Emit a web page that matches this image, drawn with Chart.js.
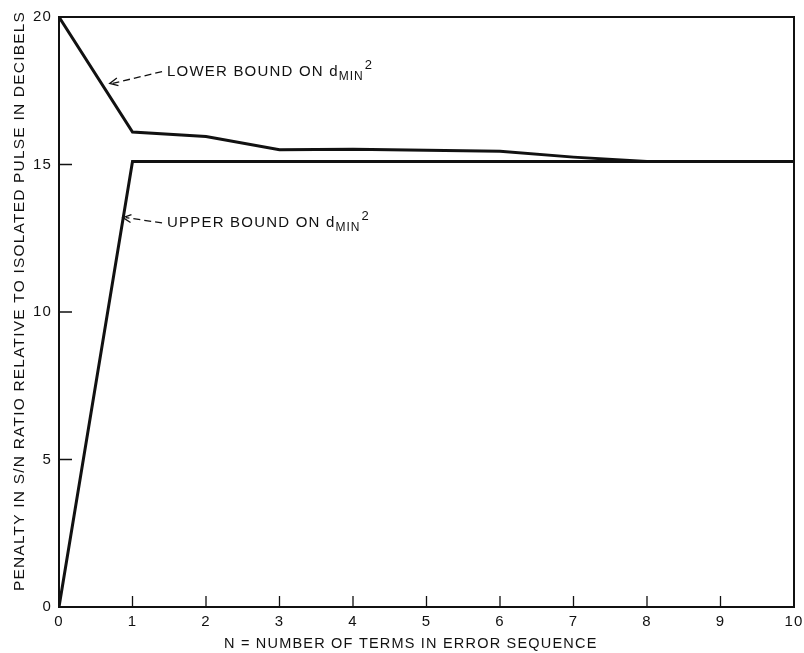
<!DOCTYPE html>
<html>
<head>
<meta charset="utf-8">
<script src="https://cdn.jsdelivr.net/npm/chart.js@4"></script>
<style>
  html, body { margin: 0; padding: 0; background: #fff; }
  #wrap { width: 804px; height: 653px; }
</style>
</head>
<body>
<div id="wrap"><canvas id="grafico"></canvas></div>
<script>
// values
var termos = [0, 1, 2, 3, 4, 5, 6, 7, 8, 9, 10];
var limiteInferior = [20, 16.1, 15.95, 15.5, 15.52, 15.48, 15.45, 15.25, 15.1, 15.1, 15.1];
var limiteSuperior = [0, 15.1, 15.1, 15.1, 15.1, 15.1, 15.1, 15.1, 15.1, 15.1, 15.1];
var ticksX = [0, 1, 2, 3, 4, 5, 6, 7, 8, 9, 10];
var ticksY = [0, 5, 10, 15, 20];

var tinta = '#111';
var fonte = 'Liberation Sans, Arial, sans-serif';

function pontos(ys) {
    return termos.map(function (x, i) { return { x: x, y: ys[i] }; });
}

// frame, inward tick marks and the two arrow labels
var moldura = {
    id: 'moldura',
    beforeDraw: function (chart) {
        chart.ctx.letterSpacing = '1.2px';
    },
    afterDraw: function (chart) {
        var ctx = chart.ctx, a = chart.chartArea;
        var sx = chart.scales.x, sy = chart.scales.y;
        ctx.save();
        ctx.strokeStyle = tinta;
        ctx.lineWidth = 2;
        ctx.strokeRect(a.left, a.top, a.right - a.left, a.bottom - a.top);
        ctx.lineWidth = 1.3;
        ctx.beginPath();
        ticksX.slice(1, -1).forEach(function (v) {
            var px = sx.getPixelForValue(v);
            ctx.moveTo(px, a.bottom); ctx.lineTo(px, a.bottom - 11);
        });
        ticksY.slice(1, -1).forEach(function (v) {
            var py = sy.getPixelForValue(v);
            ctx.moveTo(a.left, py); ctx.lineTo(a.left + 13, py);
        });
        ctx.stroke();

        function seta(xSeta, ySeta, xTxt, yTxt) {
            var x0 = sx.getPixelForValue(xSeta), y0 = sy.getPixelForValue(ySeta);
            var x1 = sx.getPixelForValue(xTxt), y1 = sy.getPixelForValue(yTxt);
            ctx.lineWidth = 1.3;
            ctx.setLineDash([7, 4]);
            ctx.beginPath();
            ctx.moveTo(x1 - 5, y1); ctx.lineTo(x0 + 3, y0);
            ctx.stroke();
            ctx.setLineDash([]);
            var ang = Math.atan2(y1 - y0, x1 - x0);
            ctx.beginPath();
            ctx.moveTo(x0 + 9 * Math.cos(ang - 0.45), y0 + 9 * Math.sin(ang - 0.45));
            ctx.lineTo(x0, y0);
            ctx.lineTo(x0 + 9 * Math.cos(ang + 0.45), y0 + 9 * Math.sin(ang + 0.45));
            ctx.stroke();
            return { x: x1, y: y1 };
        }
        function texto(p, principal) {
            ctx.fillStyle = tinta;
            ctx.textBaseline = 'middle';
            ctx.textAlign = 'left';
            ctx.font = '15px ' + fonte;
            ctx.letterSpacing = '1.2px';
            ctx.fillText(principal + ' d', p.x, p.y);
            var w = ctx.measureText(principal + ' d').width;
            ctx.font = '12px ' + fonte;
            ctx.letterSpacing = '1px';
            ctx.fillText('MIN', p.x + w, p.y + 5);
            var w2 = ctx.measureText('MIN').width;
            ctx.font = '13px ' + fonte;
            ctx.fillText('2', p.x + w + w2 + 1, p.y - 6);
            ctx.letterSpacing = '1.2px';
        }
        var p1 = seta(0.69, 17.75, 1.47, 18.15);
        texto(p1, 'LOWER BOUND ON');
        var p2 = seta(0.87, 13.2, 1.47, 13.02);
        texto(p2, 'UPPER BOUND ON');
        ctx.restore();
    }
};

var ctx = document.getElementById('grafico').getContext('2d');
var chart = new Chart(ctx, {
    type: 'line',
    data: {
        datasets: [{
            label: 'Lower bound',
            data: pontos(limiteInferior),
            borderColor: tinta,
            borderWidth: 3,
            pointRadius: 0,
            tension: 0
        }, {
            label: 'Upper bound',
            data: pontos(limiteSuperior),
            borderColor: tinta,
            borderWidth: 3,
            pointRadius: 0,
            tension: 0
        }]
    },
    options: {
        responsive: true,
        maintainAspectRatio: false,
        animation: false,
        layout: { padding: { top: 17, right: 10, left: 0, bottom: 0 } },
        plugins: { legend: { display: false }, tooltip: { enabled: false } },
        scales: {
            x: {
                type: 'linear',
                min: 0, max: 10,
                afterBuildTicks: function (s) { s.ticks = ticksX.map(function (v) { return { value: v }; }); },
                afterFit: function (s) { s.height = 46; s.paddingRight = 0; s.paddingLeft = 0; },
                grid: { display: false, drawTicks: false },
                border: { display: false },
                ticks: { color: tinta, font: { family: fonte, size: 15 }, padding: 6, maxRotation: 0 },
                title: {
                    display: true,
                    text: 'N = NUMBER OF TERMS IN ERROR SEQUENCE\u00a0\u00a0\u00a0\u00a0\u00a0\u00a0',
                    color: tinta,
                    font: { family: fonte, size: 14.5 },
                    padding: { top: 0, bottom: 0 }
                }
            },
            y: {
                min: 0, max: 20,
                afterBuildTicks: function (s) { s.ticks = ticksY.map(function (v) { return { value: v }; }); },
                afterFit: function (s) { s.width = 59; },
                grid: { display: false, drawTicks: false },
                border: { display: false },
                ticks: { color: tinta, font: { family: fonte, size: 15 }, padding: 7 },
                title: {
                    display: true,
                    text: '\u00a0\u00a0\u00a0\u00a0PENALTY IN S/N RATIO RELATIVE TO ISOLATED PULSE IN DECIBELS',
                    color: tinta,
                    font: { family: fonte, size: 15.5 },
                    padding: { top: 10, bottom: 0 }
                }
            }
        }
    },
    plugins: [moldura]
});
</script>
</body>
</html>
